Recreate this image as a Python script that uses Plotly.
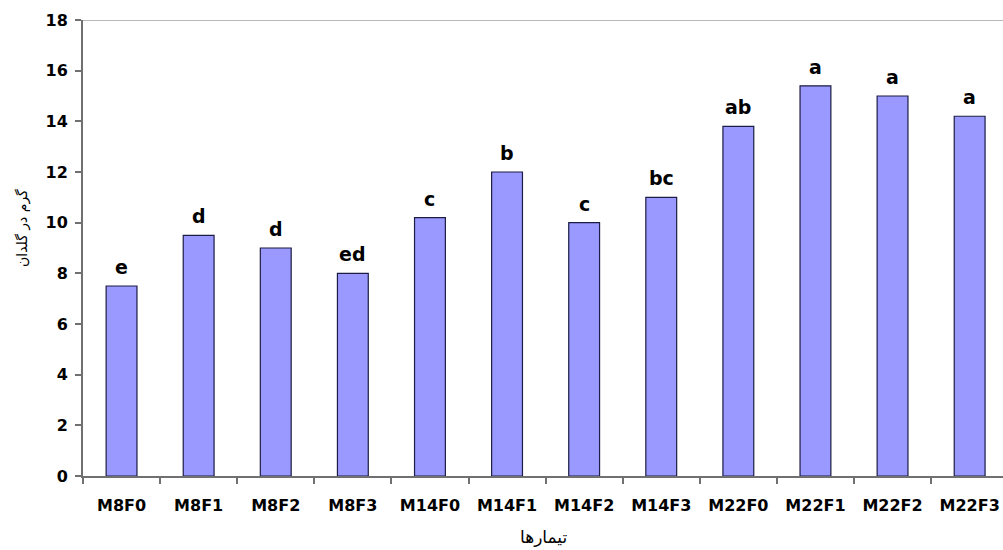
import plotly.graph_objects as go

# Treatments and mean dry weight (g per pot) with significance letters
treatments = ["M8F0", "M8F1", "M8F2", "M8F3", "M14F0", "M14F1",
              "M14F2", "M14F3", "M22F0", "M22F1", "M22F2", "M22F3"]
weights = [7.5, 9.5, 9.0, 8.0, 10.2, 12.0, 10.0, 11.0, 13.8, 15.4, 15.0, 14.2]
letters = ["e", "d", "d", "ed", "c", "b", "c", "bc", "ab", "a", "a", "a"]
y_ticks = [0, 2, 4, 6, 8, 10, 12, 14, 16, 18]

W, H = 1003, 550
ML, MR, MT, MB = 83, 0, 20, 74
BOLD = "DejaVu Sans, Arial, sans-serif"
FA = "DejaVu Sans, Noto Sans, sans-serif"

fig = go.Figure()
fig.add_trace(go.Bar(
    x=treatments,
    y=weights,
    marker=dict(color="#9999FF", line=dict(color="#1c1c44", width=1.2)),
    hoverinfo="x+y",
))

# significance letters above each bar
for t, v, s in zip(treatments, weights, letters):
    fig.add_annotation(
        x=t, y=v, text=s, showarrow=False,
        xanchor="center", yanchor="bottom", yshift=6,
        font=dict(family=BOLD, size=19, color="#000", weight="bold"),
    )

# grey top border of the plot area
fig.add_shape(type="line", xref="paper", yref="y", x0=0, x1=1, y0=18, y1=18,
              line=dict(color="#b8b8b8", width=2))

# axis titles
fig.add_annotation(
    xref="paper", yref="paper", x=0.5, y=-(537 - (H - MB)) / (H - MT - MB),
    text="تیمارها", showarrow=False, xanchor="center", yanchor="middle",
    font=dict(family=FA, size=17, color="#000"),
)
fig.add_annotation(
    xref="paper", yref="paper", x=-(ML - 22) / (W - ML - MR),
    y=((H - MB) - 228) / (H - MT - MB),
    text="گرم در گلدان", showarrow=False, textangle=-90,
    xanchor="center", yanchor="middle",
    font=dict(family=FA, size=14, color="#000"),
)

span = (W - ML - MR) / 77.1
axis_common = dict(
    showline=True, linecolor="#707070", linewidth=2,
    ticks="outside", ticklen=6, tickcolor="#707070", tickwidth=1.5,
    showgrid=False, zeroline=False,
    tickfont=dict(family=BOLD, size=16, color="#000", weight="bold"),
)
fig.update_layout(
    width=W, height=H,
    margin=dict(l=ML, r=MR, t=MT, b=MB, pad=0),
    paper_bgcolor="white", plot_bgcolor="white",
    bargap=0.6,
    showlegend=False,
    xaxis=dict(
        type="category",
        range=[-0.5, -0.5 + span],
        tickson="boundaries",
        ticklabelstandoff=14,
        **axis_common,
    ),
    yaxis=dict(
        range=[0, 18],
        tickvals=y_ticks,
        ticklabelstandoff=4,
        **axis_common,
    ),
)

fig.write_html("out.html")
